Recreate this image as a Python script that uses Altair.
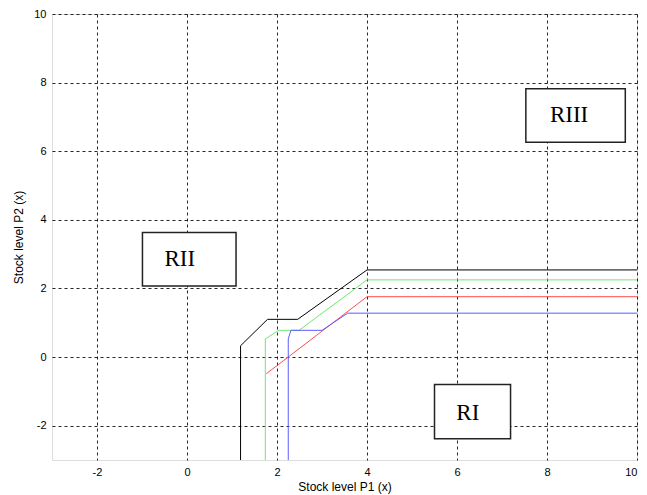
import altair as alt
import pandas as pd

# Boundary curves (x = stock level P1, y = stock level P2)
black_x = [1.19, 1.19, 1.79, 2.46, 4.0, 10.0]
black_y = [-3.0, 0.33, 1.10, 1.10, 2.54, 2.54]
green_x = [1.74, 1.74, 2.04, 2.49, 4.0, 10.0]
green_y = [-3.0, 0.53, 0.78, 0.78, 2.25, 2.25]
red_x = [1.76, 4.0, 10.0]
red_y = [-0.49, 1.76, 1.76]
blue_x = [2.25, 2.25, 2.31, 3.0, 3.57, 10.0]
blue_y = [-3.0, 0.53, 0.78, 0.78, 1.28, 1.28]

series_names = ["black", "green", "red", "blue"]
series_colors = ["#000000", "#6ee86e", "#ff4d4d", "#5c5cff"]

# Region labels and their boxes
region_labels = ["RII", "RI", "RIII"]
box_x1 = [-0.99, 5.50, 7.53]
box_x2 = [1.09, 7.19, 9.74]
box_y1 = [2.07, -2.38, 6.26]
box_y2 = [3.63, -0.80, 7.82]
text_x = [-0.16, 6.24, 8.49]
text_y = [2.86, -1.63, 7.06]

ticks = [-2, 0, 2, 4, 6, 8, 10]

rows = []
for name, xs, ys in zip(series_names, [black_x, green_x, red_x, blue_x], [black_y, green_y, red_y, blue_y]):
    for i, (x, y) in enumerate(zip(xs, ys)):
        rows.append({"series": name, "x": x, "y": y, "order": i})
lines_df = pd.DataFrame(rows)

boxes_df = pd.DataFrame({
    "label": region_labels, "x1": box_x1, "x2": box_x2,
    "y1": box_y1, "y2": box_y2, "tx": text_x, "ty": text_y,
})

xscale = alt.Scale(domain=[-3, 10], nice=False, zero=False)
yscale = alt.Scale(domain=[-3, 10], nice=False, zero=False)

axis_common = dict(
    values=ticks, grid=True, gridColor="#000000", gridDash=[3, 3], gridOpacity=0.85,
    gridWidth=1, ticks=False, domain=False, labelFont="Liberation Sans", labelFontSize=11,
    labelColor="#000000", titleFont="Liberation Sans", titleFontSize=12, titleFontWeight="normal",
    titleColor="#000000", labelPadding=6, labelExpr="'' + datum.value",
)

lines = alt.Chart(lines_df).mark_line(strokeWidth=1, clip=True).encode(
    x=alt.X("x:Q", scale=xscale, axis=alt.Axis(title="Stock level P1 (x)", titlePadding=4, **axis_common)),
    y=alt.Y("y:Q", scale=yscale, axis=alt.Axis(title="Stock level P2 (x)", titlePadding=8, **axis_common)),
    color=alt.Color("series:N", scale=alt.Scale(domain=series_names, range=series_colors), legend=None),
    order="order:Q",
    detail="series:N",
)

boxes = alt.Chart(boxes_df).mark_rect(fill="white", stroke="#222222", strokeWidth=1.5).encode(
    x=alt.X("x1:Q", scale=xscale), x2="x2:Q",
    y=alt.Y("y1:Q", scale=yscale), y2="y2:Q",
)

texts = alt.Chart(boxes_df).mark_text(font="Liberation Serif", fontSize=23, color="#000000",
                                      align="center", baseline="middle").encode(
    x=alt.X("tx:Q", scale=xscale), y=alt.Y("ty:Q", scale=yscale), text="label:N",
)

chart = alt.layer(lines, boxes, texts).properties(
    width=585, height=446,
    autosize=alt.AutoSizeParams(type="none"),
    padding={"left": 44, "top": 6, "right": 2, "bottom": 40},
).configure_view(stroke="#000000", strokeWidth=1).configure(background="white")

chart.save("out.html", embed_options={"renderer": "svg", "actions": False})
